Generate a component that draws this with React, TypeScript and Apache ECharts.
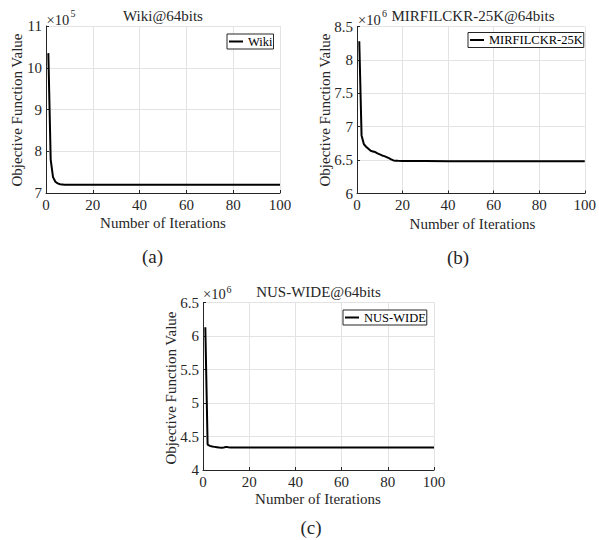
import React, { useEffect, useRef } from "react";
import * as echarts from "echarts";

// ---- Data (values in the axis' scaled units) ----
const wikiIter = [1, 2, 3, 4, 5, 6, 7, 8, 10, 20, 40, 60, 80, 100];
const wikiVals = [10.35, 7.8, 7.38, 7.27, 7.23, 7.21, 7.205, 7.2, 7.2, 7.2, 7.2, 7.2, 7.2, 7.2];

const mirIter = [1, 2, 3, 4, 5, 6, 7, 8, 9, 10, 11, 12, 13, 14, 15, 16, 17, 18, 20, 30, 40, 60, 80, 100];
const mirVals = [8.28, 6.87, 6.74, 6.7, 6.67, 6.64, 6.63, 6.62, 6.6, 6.585, 6.57, 6.56, 6.545, 6.53, 6.51, 6.495, 6.49, 6.489, 6.488, 6.487, 6.483, 6.482, 6.482, 6.482];

const nusIter = [1, 2, 3, 4, 5, 6, 7, 8, 9, 10, 11, 12, 20, 40, 60, 80, 100];
const nusVals = [6.13, 4.38, 4.36, 4.35, 4.345, 4.34, 4.335, 4.332, 4.335, 4.345, 4.338, 4.336, 4.336, 4.336, 4.336, 4.336, 4.336];

const xTicks = { min: 0, max: 100, interval: 20 };
const yRangeA = { min: 7, max: 11, interval: 1 };
const yRangeB = { min: 6, max: 8.5, interval: 0.5 };
const yRangeC = { min: 4, max: 6.5, interval: 0.5 };

const seriesNames = ["Wiki", "MIRFILCKR-25K", "NUS-WIDE"];
const titles = ["Wiki@64bits", "MIRFILCKR-25K@64bits", "NUS-WIDE@64bits"];
const exponents = ["5", "6", "6"];
const panelLabels = ["(a)", "(b)", "(c)"];
const xName = "Number of Iterations";
const yName = "Objective Function Value";

const FONT = "Liberation Serif";
const AX = "#262626";
const GRID = "#e3e3e3";

const zip = (xs: number[], ys: number[]) => xs.map((x, i) => [x, ys[i]]);

export default function App() {
  const ref = useRef<HTMLDivElement>(null);
  useEffect(() => {
    if (!ref.current) return;
    const chart = echarts.init(ref.current, undefined, { renderer: "svg" });

    const grids = [
      { left: 46, top: 26, width: 234, height: 167 },
      { left: 357, top: 26.5, width: 232, height: 167 },
      { left: 203, top: 302.5, width: 231, height: 167.5 },
    ];
    const yRanges = [yRangeA, yRangeB, yRangeC];
    const dataSets = [zip(wikiIter, wikiVals), zip(mirIter, mirVals), zip(nusIter, nusVals)];

    const axisCommon = {
      axisLine: { show: true, lineStyle: { color: AX, width: 1 } },
      axisTick: { show: true, inside: true, length: 3, lineStyle: { color: AX } },
      splitLine: { show: true, lineStyle: { color: GRID, width: 1 } },
      axisLabel: { color: AX, fontFamily: FONT, fontSize: 15, margin: 4 },
    };

    const xAxis = grids.map((_, i) => ({
      type: "value",
      gridIndex: i,
      ...xTicks,
      ...axisCommon,
    }));
    const yAxis = grids.map((_, i) => ({
      type: "value",
      gridIndex: i,
      ...yRanges[i],
      ...axisCommon,
    }));

    const series = dataSets.map((d, i) => ({
      name: seriesNames[i],
      type: "line",
      xAxisIndex: i,
      yAxisIndex: i,
      data: d,
      symbol: "none",
      lineStyle: { color: "#000", width: 2 },
      itemStyle: { color: "#000" },
    }));

    const legendPos = [
      { left: 227, top: 34 },
      { left: 468, top: 32.5 },
      { left: 343, top: 310 },
    ];
    const legend = seriesNames.map((n, i) => ({
      data: [n],
      ...legendPos[i],
      orient: "vertical",
      icon: "rect",
      itemWidth: 14,
      itemHeight: 2,
      padding: [1, 1, 1, 2],
      borderColor: AX,
      borderWidth: 1,
      backgroundColor: "#fff",
      textStyle: { fontFamily: FONT, fontSize: 12.5, color: "#000" },
    }));

    const txt = (x: number, y: number, text: string, fontSize: number, extra: any = {}) => ({
      type: "text",
      x,
      y,
      ...extra,
      style: {
        text,
        fontFamily: FONT,
        fontSize,
        fill: AX,
        align: extra.align || "center",
        verticalAlign: "middle",
      },
    });

    const titlePos = [
      [163, 16],
      [473, 16],
      [318.5, 292],
    ];
    const expPos = [
      [46.5, 19.5, 70.5, 13.3],
      [358, 19.5, 382, 13.3],
      [203, 294, 226.5, 289],
    ];
    const xNamePos = [
      [163, 223.3],
      [472.5, 224],
      [318, 499.3],
    ];
    const yNamePos = [
      [17.3, 110],
      [325, 110],
      [171, 388],
    ];
    const labelPos = [
      [152.5, 256],
      [458, 257],
      [311, 527],
    ];

    const graphic: any[] = [];
    for (let i = 0; i < 3; i++) {
      graphic.push(txt(titlePos[i][0], titlePos[i][1], titles[i], 15));
      graphic.push(txt(expPos[i][0], expPos[i][1], "×10", 14.5, { align: "left" }));
      graphic.push(txt(expPos[i][2], expPos[i][3], exponents[i], 10, { align: "left" }));
      graphic.push(txt(xNamePos[i][0], xNamePos[i][1], xName, 15));
      graphic.push(txt(yNamePos[i][0], yNamePos[i][1], yName, 15, { rotation: Math.PI / 2 }));
      graphic.push(txt(labelPos[i][0], labelPos[i][1], panelLabels[i], 19));
    }

    chart.setOption({
      animation: false,
      backgroundColor: "#fff",
      grid: grids.map((g) => ({ ...g, containLabel: false })),
      xAxis,
      yAxis,
      series,
      legend,
      graphic,
    } as any);

    return () => chart.dispose();
  }, []);

  return (
    <div
      ref={ref}
      style={{ position: "fixed", left: 0, top: 0, width: 599, height: 540 }}
    />
  );
}
